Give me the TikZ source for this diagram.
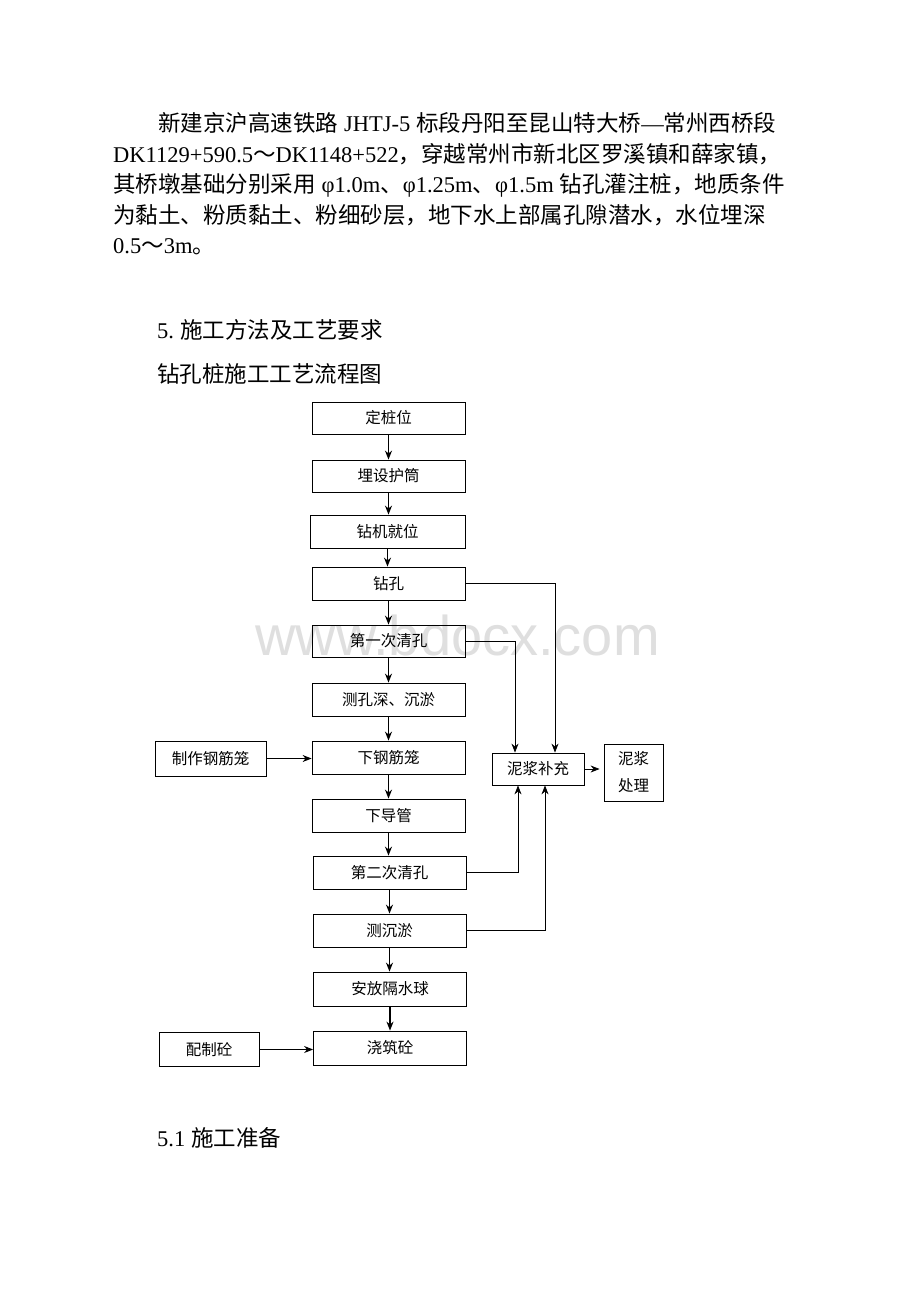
\documentclass[tikz,border=0pt]{standalone}
\usepackage{fontspec}
\setmainfont{Liberation Serif}
\newfontfamily\cjk{Noto Sans CJK SC}
\newfontfamily\wmfont{Liberation Sans}
\usetikzlibrary{arrows.meta}
\XeTeXlinebreaklocale "zh"
\XeTeXlinebreakskip=0pt plus 3pt
\newcommand{\fsp}{\hspace{6pt}}
\tikzset{
  box/.style={draw, line width=0.8pt, inner sep=0pt, align=center,
    font=\cjk\fontsize{15.5}{27}\selectfont},
  marr/.style={-{Stealth[length=9pt,width=7pt]}, line width=1.5pt},
  sarr/.style={-{Stealth[length=9pt,width=7pt]}, line width=0.9pt},
  body/.style={anchor=base west, inner sep=0pt, font=\fontsize{22.5}{30}\selectfont},
}
\begin{document}
\begin{tikzpicture}[x=1pt,y=-1pt]
\useasboundingbox[fill=white] (0,0) rectangle (920,1302);
% watermark
\node[anchor=base west, inner sep=0pt, text=gray!25,
  font=\wmfont\fontsize{56}{60}\selectfont] (wm) at (255,655) {www.bdocx.com};
% paragraph
\node[body] (l1) at (158,131) {\makebox[630pt][s]{{\cjk 新建京沪高速铁路}\fsp JHTJ-5\fsp{\cjk 标段丹阳至昆山特大桥}—{\cjk 常州西桥段}}};
\node[body] (l2) at (113,162) {\makebox[677pt][s]{DK1129+590.5{\cjk ～}DK1148+522{\cjk ，穿越常州市新北区罗溪镇和薛家镇，}}};
\node[body] (l3) at (113,192) {\makebox[675pt][s]{{\cjk 其桥墩基础分别采用}\fsp φ1.0m{\cjk 、}φ1.25m{\cjk 、}φ1.5m\fsp{\cjk 钻孔灌注桩，地质条件}}};
\node[body] (l4) at (113,223) {\makebox[667pt][s]{{\cjk 为黏土、粉质黏土、粉细砂层，地下水上部属孔隙潜水，水位埋深}}};
\node[body] (l5) at (113,253) {0.5{\cjk ～}3m{\cjk 。}};
\node[body] (h1) at (157,338) {5.\fsp{\cjk 施工方法及工艺要求}};
\node[body] (h2) at (157,382) {\cjk 钻孔桩施工工艺流程图};
\node[body] (h3) at (157,1146) {5.1\fsp{\cjk 施工准备}};
% main column
\node[box, minimum width=153pt, minimum height=32pt] (b1) at (388.5,418) {定桩位};
\node[box, minimum width=153pt, minimum height=32pt] (b2) at (388.5,476) {埋设护筒};
\node[box, minimum width=155pt, minimum height=33pt] (b3) at (387.5,531.5) {钻机就位};
\node[box, minimum width=153pt, minimum height=33pt] (b4) at (388.5,583.5) {钻孔};
\node[box, minimum width=153pt, minimum height=32pt] (b5) at (388.5,641) {第一次清孔};
\node[box, minimum width=153pt, minimum height=33pt] (b6) at (388.5,699.5) {测孔深、沉淤};
\node[box, minimum width=153pt, minimum height=33pt] (b7) at (388.5,757.5) {下钢筋笼};
\node[box, minimum width=153pt, minimum height=33pt] (b8) at (388.5,815.5) {下导管};
\node[box, minimum width=153pt, minimum height=33pt] (b9) at (389.5,872.5) {第二次清孔};
\node[box, minimum width=153pt, minimum height=33pt] (b10) at (389.5,930.5) {测沉淤};
\node[box, minimum width=153pt, minimum height=34pt] (b11) at (390,989) {安放隔水球};
\node[box, minimum width=153pt, minimum height=34pt] (b12) at (390,1048) {浇筑砼};
% side boxes
\node[box, minimum width=111pt, minimum height=35pt] (s1) at (210.5,758.5) {制作钢筋笼};
\node[box, minimum width=100pt, minimum height=34pt] (s2) at (209,1049.5) {配制砼};
\node[box, minimum width=92pt, minimum height=32pt] (m1) at (538,769) {泥浆补充};
\node[box, minimum width=59pt, minimum height=57pt] (m2) at (633.5,772.5) {泥浆\\处理};
% main arrows
\foreach \a/\b in {b1/b2,b2/b3,b3/b4,b4/b5,b5/b6,b6/b7,b7/b8,b8/b9,b9/b10,b10/b11,b11/b12}
  \draw[marr] (\a.south) -- (\a.south |- \b.north);
% side arrows
\draw[sarr] (s1.east) -- (s1.east -| b7.west);
\draw[sarr] (s2.east) -- (s2.east -| b12.west);
\coordinate (xa) at (515,0);
\coordinate (xb) at (555,0);
\coordinate (xc) at (518,0);
\coordinate (xd) at (545,0);
\draw[sarr] (b4.east) -| (xb |- m1.north);
\draw[sarr] (b5.east) -| (xa |- m1.north);
\draw[sarr] (b9.east) -| (xc |- m1.south);
\draw[sarr] (b10.east) -| (xd |- m1.south);
\draw[sarr, shorten >=4pt] (m1.east) -- (m1.east -| m2.west);
\end{tikzpicture}
\end{document}
